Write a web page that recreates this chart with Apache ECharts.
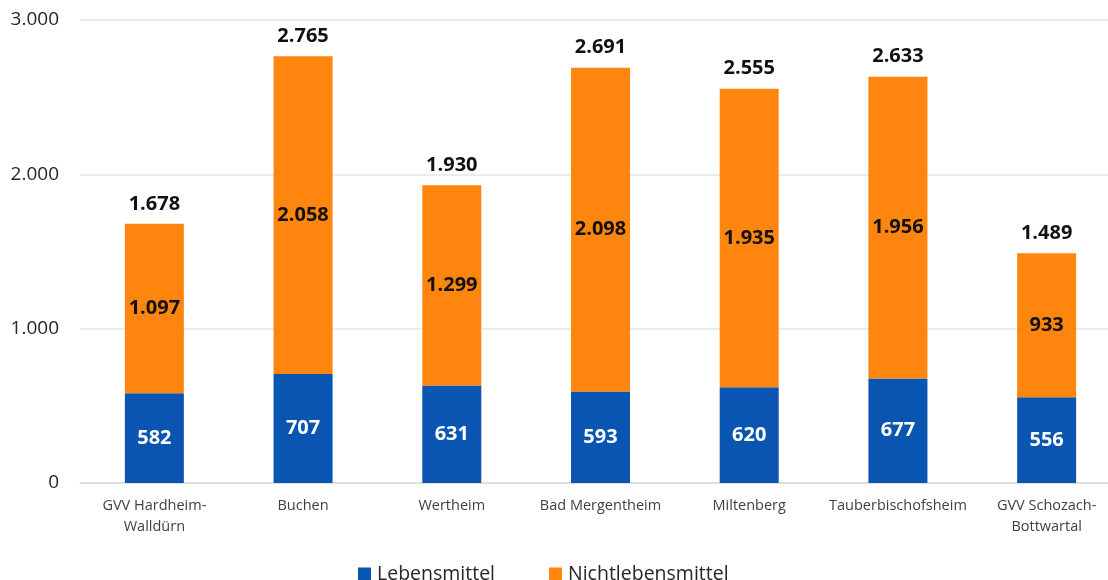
<!DOCTYPE html>
<html>
<head>
<meta charset="utf-8">
<script src="https://cdn.jsdelivr.net/npm/echarts@6/dist/echarts.min.js"></script>
<style>
  html, body { margin: 0; padding: 0; background: #fff; overflow: hidden; }
  #chart { width: 1122px; height: 580px; }
</style>
</head>
<body>
<div id="chart"></div>
<script>
// Verkaufsfläche je Standort, gegliedert nach Sortiment
const categories = [
  'GVV Hardheim-\nWalldürn', 'Buchen', 'Wertheim', 'Bad Mergentheim',
  'Miltenberg', 'Tauberbischofsheim', 'GVV Schozach-\nBottwartal'
];
const lebensmittel = [582, 707, 631, 593, 620, 677, 556];
const nichtlebensmittel = [1097, 2058, 1299, 2098, 1935, 1956, 933];
const totals = [1678, 2765, 1930, 2691, 2555, 2633, 1489];
const yTicks = [0, 1000, 2000, 3000];

const FONT = '"Open Sans", "Noto Sans", sans-serif';
const fmt = v => Number(v).toLocaleString('de-DE');

const chart = echarts.init(document.getElementById('chart'));
chart.setOption({
  animation: false,
  textStyle: { fontFamily: FONT },
  grid: { left: 80, top: 20, right: 1, height: 463, containLabel: false },
  legend: {
    data: ['Lebensmittel', 'Nichtlebensmittel'],
    top: 559,
    left: 353,
    itemWidth: 13,
    itemHeight: 13,
    itemGap: 54,
    icon: 'rect',
    textStyle: { fontFamily: FONT, fontSize: 19.5, color: '#262626', padding: [0, 0, 0, 1] }
  },
  xAxis: {
    type: 'category',
    data: categories,
    axisLine: { lineStyle: { color: '#d9d9d9', width: 1.5 } },
    axisTick: { show: false },
    axisLabel: {
      color: '#404040', fontSize: 14.5, fontFamily: FONT,
      lineHeight: 21, margin: 12, interval: 0
    }
  },
  yAxis: {
    type: 'value',
    min: yTicks[0],
    max: yTicks[yTicks.length - 1],
    interval: 1000,
    axisLine: { show: false },
    axisTick: { show: false },
    splitLine: { lineStyle: { color: '#e6e6e6', width: 1.5 } },
    axisLabel: {
      color: '#262626', fontSize: 19, fontFamily: FONT, margin: 21,
      formatter: v => fmt(v)
    }
  },
  series: [
    {
      name: 'Lebensmittel',
      type: 'bar',
      stack: 'flaeche',
      barWidth: 59,
      data: lebensmittel,
      itemStyle: { color: '#0a55b1' },
      label: {
        show: true, position: 'inside', color: '#ffffff',
        fontSize: 20, fontWeight: 'bold', fontFamily: FONT,
        formatter: p => fmt(p.value)
      }
    },
    {
      name: 'Nichtlebensmittel',
      type: 'bar',
      stack: 'flaeche',
      barWidth: 59,
      data: nichtlebensmittel,
      itemStyle: { color: '#ff860e' },
      label: {
        show: true, position: 'inside', color: '#111111',
        fontSize: 20, fontWeight: 'bold', fontFamily: FONT,
        formatter: p => fmt(p.value)
      }
    },
    {
      name: 'Summe',
      type: 'scatter',
      data: totals,
      symbolSize: 0,
      silent: true,
      itemStyle: { opacity: 1 },
      label: {
        show: true, position: 'top', distance: 10, color: '#111111',
        fontSize: 20, fontWeight: 'bold', fontFamily: FONT,
        formatter: p => fmt(p.value)
      }
    }
  ]
});
</script>
</body>
</html>
